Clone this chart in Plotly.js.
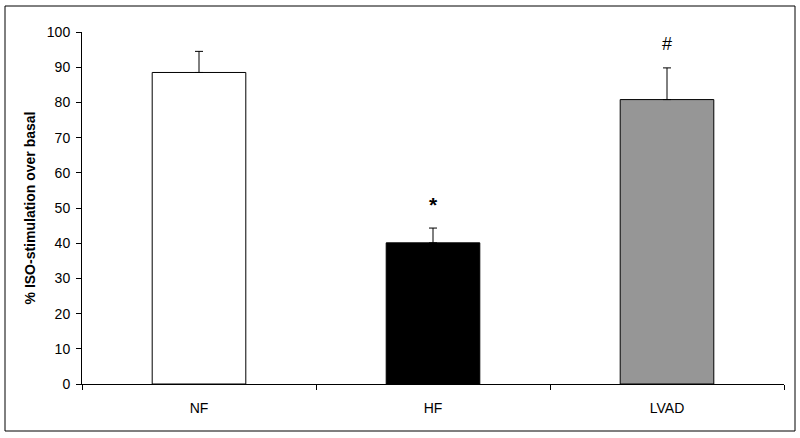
<!DOCTYPE html>
<html><head><meta charset="utf-8">
<script src="https://cdn.plot.ly/plotly-3.0.1.min.js"></script>
<style>html,body{margin:0;padding:0;background:#fff}#c{width:800px;height:438px}</style>
</head><body><div id="c"></div>
<script>
const categories = ["NF", "HF", "LVAD"];
const values = [88.5, 40.1, 80.8];
const errors = [6.0, 4.2, 9.0];
const barColors = ["#ffffff", "#000000", "#969696"];
const marks = ["", "<b>*</b>", "#"];
const markY = [0, 51, 96.5];
const yTicks = [0,10,20,30,40,50,60,70,80,90,100];

const L = 82, R = 16, T = 32, B = 54, W = 800, H = 438;
const pw = W - L - R, ph = H - T - B;

const trace = {
  type: "bar", x: categories, y: values,
  marker: {color: barColors, line: {color: "#000", width: 1}},
  error_y: {type: "data", array: errors, arrayminus: errors.map(()=>0), symmetric: false,
            color: "#000", thickness: 1, width: 4},
  hoverinfo: "none"
};

const annotations = categories.map((c,i)=>({
  x: c, y: markY[i], text: marks[i], showarrow: false, xref: "x", yref: "y",
  font: {family: "Liberation Sans, Arial, sans-serif", size: i===1?21:18, color: "#000"}
})).filter(a=>a.text);

const layout = {
  width: W, height: H,
  margin: {l: L, r: R, t: T, b: B},
  paper_bgcolor: "#fff", plot_bgcolor: "#fff",
  showlegend: false, bargap: 0.6,
  font: {family: "Liberation Sans, Arial, sans-serif", size: 14, color: "#000"},
  xaxis: {type: "category", range: [-0.5, 2.5], showline: true, linecolor: "#000", linewidth: 1,
          ticks: "outside", tickson: "boundaries", ticklen: 5, tickcolor: "#000",
          showgrid: false, zeroline: false, tickfont: {size: 14}, ticklabelstandoff: 11},
  yaxis: {range: [0, 100], tickvals: yTicks, showline: true, linecolor: "#000", linewidth: 1,
          ticks: "outside", ticklen: 5, tickcolor: "#000", showgrid: false, zeroline: false,
          tickfont: {size: 14}, ticklabelstandoff: 3,
          title: {text: "<b>% ISO-stimulation over basal</b>", font: {size: 14}, standoff: 7}},
  annotations: annotations,
  shapes: [{type: "rect", xref: "paper", yref: "paper",
            x0: (5 - L)/pw, x1: (795 - L)/pw, y0: (H - B - 431)/ph, y1: (H - B - 6)/ph,
            line: {color: "#000", width: 1}}]
};

Plotly.newPlot("c", [trace], layout, {staticPlot: true, displayModeBar: false});
</script></body></html>
